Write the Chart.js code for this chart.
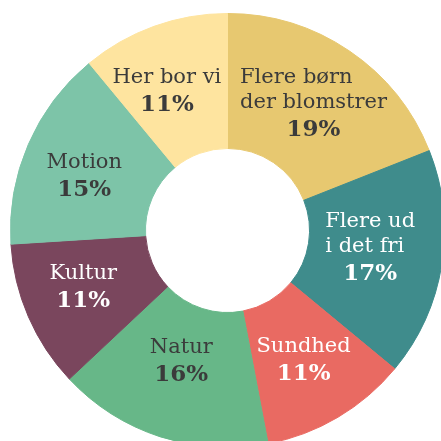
<!DOCTYPE html>
<html>
<head>
<meta charset="utf-8">
<script src="https://cdn.jsdelivr.net/npm/chart.js@4"></script>
<style>
  html, body { margin: 0; padding: 0; background: #fff; overflow: hidden; width: 441px; height: 441px; }
  #wrap { position: absolute; left: 10px; top: 13px; width: 435px; height: 435px; }
</style>
</head>
<body>
<div id="wrap"><canvas id="pie"></canvas></div>
<script>
const labels = [
  ["Flere børn", "der blomstrer"],
  ["Flere ud", "i det fri"],
  ["Sundhed"],
  ["Natur"],
  ["Kultur"],
  ["Motion"],
  ["Her bor vi"]
];
const shares = [19, 17, 11, 16, 11, 15, 11];

const colors = ["#E7C870", "#3F8C8C", "#E96A62", "#67B788", "#7A465D", "#7DC4A8", "#FEE49F"];
const textColors = ["#3b3b3b", "#ffffff", "#ffffff", "#3b3b3b", "#ffffff", "#3b3b3b", "#3b3b3b"];
// small label nudges from the slice centre, [dx, dy]
const nudges = [[2, -4], [-5, -7], [0, 0], [0, -13], [-7, -4], [-6, 4], [-10, 0]];

const sliceLabels = {
  id: "sliceLabels",
  afterDatasetsDraw(chart) {
    const ctx = chart.ctx;
    const meta = chart.getDatasetMeta(0);
    meta.data.forEach((arc, i) => {
      const p = arc.tooltipPosition();
      const cx = p.x + nudges[i][0];
      const lines = labels[i];
      ctx.save();
      ctx.fillStyle = textColors[i];
      ctx.textBaseline = "alphabetic";
      ctx.font = "21px 'DejaVu Serif'";
      const maxW = Math.max(...lines.map(l => ctx.measureText(l).width));
      let y = p.y + nudges[i][1] - 7 - 12.5 * (lines.length - 1);
      ctx.textAlign = lines.length > 1 ? "left" : "center";
      lines.forEach(l => {
        ctx.fillText(l, lines.length > 1 ? cx - maxW / 2 : cx, y);
        y += 25;
      });
      ctx.font = "bold 23px 'DejaVu Serif'";
      ctx.textAlign = "center";
      ctx.fillText(shares[i] + "%", cx, y + 3);
      ctx.restore();
    });
  }
};

new Chart(document.getElementById("pie"), {
  type: "doughnut",
  data: {
    labels: labels,
    datasets: [{
      data: shares,
      backgroundColor: colors,
      borderColor: colors,
      borderWidth: 1
    }]
  },
  options: {
    responsive: true,
    maintainAspectRatio: false,
    animation: false,
    cutout: "37.8%",
    layout: { padding: 0 },
    plugins: {
      legend: { display: false },
      tooltip: { enabled: false }
    }
  },
  plugins: [sliceLabels]
});
</script>
</body>
</html>
